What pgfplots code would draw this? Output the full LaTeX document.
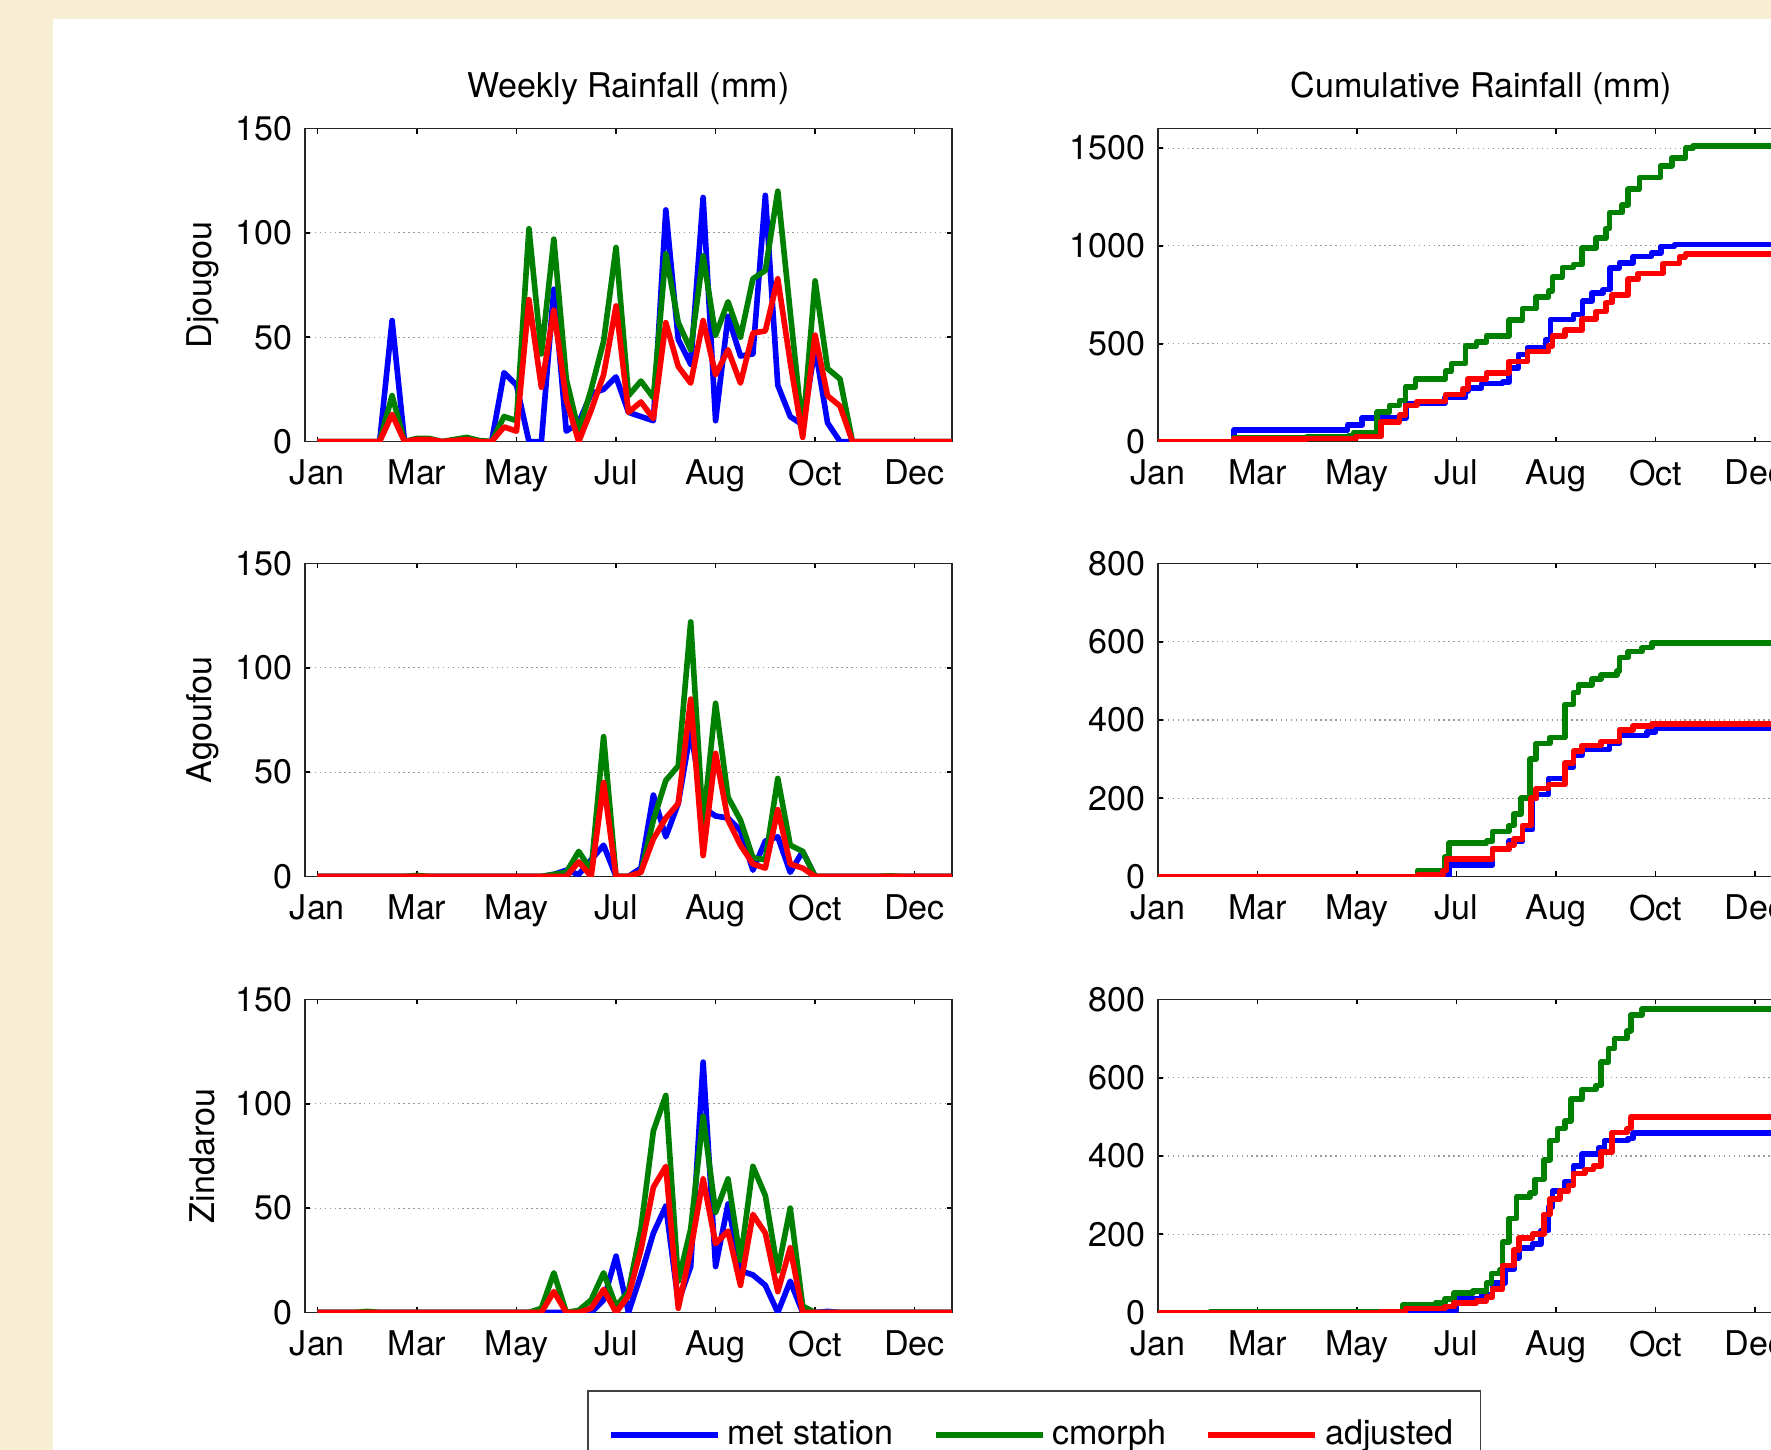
\documentclass[border=0pt]{standalone}
\usepackage{fontspec}
\setmainfont{TeX Gyre Heros}
\usepackage{pgfplots}
\usepackage{pgfplotstable}
\pgfplotsset{compat=1.18}

\definecolor{parch}{RGB}{248,238,212}
\definecolor{mgreen}{RGB}{0,128,0}
\newcommand{\fs}{\fontsize{9.7}{11.5}\selectfont}

% weekly rainfall, week number 1..52
\pgfplotstableread{
w met cm adj
1 0 0 0
2 0 0 0
3 0 0 0
4 0 0 0
5 0 0 0
6 0 0 0
7 58 22 13
8 0 0 0
9 0 1.5 1
10 0 1.5 1
11 0 0 0
12 0 1 0.5
13 0 2 1
14 0 0.5 0
15 0 0 0
16 33 12 7
17 27 10 5
18 0 102 68
19 0 42 26
20 73 97 63
21 5 30 20
22 9 5 0
23 23 25 15
24 25 48 32
25 31 93 65
26 14 22 14
27 12 29 19
28 10 21 11
29 111 90 57
30 49 57 36
31 37 44 28
32 117 89 58
33 10 51 32
34 60 67 44
35 41 50 28
36 42 78 52
37 118 82 53
38 27 120 78
39 12 62 38
40 8 5 2
41 45 77 51
42 9 35 22
43 0 30 17
44 0 0 0
45 0 0 0
46 0 0 0
47 0 0 0
48 0 0 0
49 0 0 0
50 0 0 0
51 0 0 0
52 0 0 0
}\djougou

\pgfplotstableread{
w met cm adj
1 0 0 0
2 0 0 0
3 0 0 0
4 0 0 0
5 0 0 0
6 0 0 0
7 0 0 0
8 0 0 0
9 0 0.5 0
10 0 0 0
11 0 0 0
12 0 0 0
13 0 0 0
14 0 0 0
15 0 0 0
16 0 0 0
17 0 0 0
18 0 0 0
19 0 0 0
20 1 1 0
21 3 2 0
22 1 12 7
23 8 3 0
24 15 67 45
25 0 0 0
26 0 0 0
27 4 2 2
28 39 27 18
29 19 46 28
30 35 53 35
31 70 122 85
32 33 25 10
33 29 83 59
34 28 38 27
35 22 27 15
36 3 9 6
37 17 8 4
38 19 47 32
39 2 15 6
40 12 12 4
41 0 0 0
42 0 0 0
43 0 0 0
44 0 0 0
45 0 0 0
46 0 0 0
47 0 0.3 0
48 0 0 0
49 0 0 0
50 0 0 0
51 0 0 0
52 0 0 0
}\agoufou

\pgfplotstableread{
w met cm adj
1 0 0 0
2 0 0 0
3 0 0 0
4 0 0 0
5 0 0.5 0
6 0 0 0
7 0 0 0
8 0 0 0
9 0 0 0
10 0 0 0
11 0 0 0
12 0 0 0
13 0 0 0
14 0 0 0
15 0 0 0
16 0 0 0
17 0 0 0
18 0 0 0
19 0 2 0
20 0 19 10
21 0 0 0
22 0 1 0
23 0 6 2
24 6 19 11
25 27 3 0
26 0 10 8
27 18 40 30
28 38 87 60
29 51 104 70
30 5 15 2
31 22 40 30
32 120 94 64
33 22 48 33
34 52 64 39
35 20 25 13
36 18 70 47
37 13 56 38
38 0 20 10
39 15 50 31
40 0 3 0
41 0 0 0
42 0.5 0 0
43 0 0 0
44 0 0 0
45 0 0 0
46 0 0 0
47 0 0 0
48 0 0 0
49 0 0 0
50 0 0 0
51 0 0 0
52 0 0 0
}\zindarou

\pgfplotsset{
  rain/.style={
    scale only axis, width=64.7mm, height=31.3mm,
    anchor=south west,
    xmin=0, xmax=52, ymin=0,
    tick align=inside, xtick pos=both, ytick pos=both,
    major tick length=0.5mm,
    tick style={black, line width=0.45pt},
    axis line style={black!85, line width=0.45pt},
    ymajorgrids, grid style={densely dotted, black!40, line width=0.3pt},
    tick label style={font=\fs},
    /pgf/number format/assume math mode=true,
    /pgf/number format/1000 sep={},
    scaled y ticks=false,
    xticklabel style={yshift=-0.6mm},
    label style={font=\fs},
    title style={font=\fs, yshift=-1mm},
    ylabel style={at={(axis description cs:-0.158,0.5)}, anchor=center},
    every axis plot/.append style={line width=1.6pt, line join=round, no markers},
    xticklabels={Jan,Mar,May,Jul,Aug,Oct,Dec},
  },
  weekly/.style={rain, ymax=150, ytick={0,50,100,150}, xtick={1,9,17,25,33,41,49}},
  cumul/.style={rain, xtick={0,8,16,24,32,40,48}},
}

\begin{document}
\begin{tikzpicture}
\path[use as bounding box] (0,0) rectangle (177.1mm,145mm);
\clip (0,0) rectangle (177.1mm,145mm);
\fill[parch] (0,0) rectangle (177.1mm,145mm);
\fill[white] (5.3mm,0) rectangle (177.1mm,143.1mm);

% ---- Djougou
\begin{axis}[weekly, at={(30.5mm,100.84mm)}, title={Weekly Rainfall (mm)}, ylabel={Djougou}]
\addplot[blue] table[x=w,y=met]{\djougou};
\addplot[mgreen] table[x=w,y=cm]{\djougou};
\addplot[red] table[x=w,y=adj]{\djougou};
\end{axis}

\begin{axis}[cumul, at={(115.8mm,100.84mm)}, ymax=1600, ytick={0,500,1000,1500}, title={Cumulative Rainfall (mm)}]
\addplot[blue, const plot] coordinates {(0,0) (6.09,58) (15.24,85) (16.42,120) (19.93,195) (23.06,225) (24.72,259) (24.91,275) (26.01,296) (27.68,304) (28.23,377) (28.97,446) (29.7,480) (31.18,522) (31.55,624) (33.39,650) (34.13,718) (34.87,760) (35.79,777) (36.35,888) (37.08,913) (38.19,947) (39.67,964) (40.41,998) (41.51,1007) (52,1007)};
\addplot[mgreen, const plot] coordinates {(0,0) (6.09,20) (12,25) (15.3,30) (15.7,45) (17.6,150) (18.6,185) (19.4,210) (19.9,280) (20.7,320) (23.1,360) (23.6,400) (24.7,490) (25.6,510) (26.4,540) (28.2,620) (29.3,680) (30.4,740) (31.4,770) (31.7,840) (32.5,890) (33.4,905) (34.1,990) (35.2,1040) (36.0,1090) (36.3,1170) (37.3,1210) (37.8,1290) (38.7,1350) (40.4,1410) (41.3,1450) (42.4,1500) (43.0,1510) (52,1510)};
\addplot[red, const plot] coordinates {(0,0) (6.09,12) (12,15) (15.9,25) (17.9,100) (19.4,135) (19.9,185) (20.8,205) (23.1,240) (24.5,270) (24.9,320) (26.4,350) (28.2,410) (29.7,460) (31.4,490) (31.7,540) (32.7,570) (34.1,625) (35.2,665) (36.0,710) (36.5,750) (37.8,830) (38.6,860) (40.6,910) (41.9,945) (42.4,960) (52,960)};
\end{axis}

% ---- Agoufou
\begin{axis}[weekly, at={(30.5mm,57.35mm)}, ylabel={Agoufou}]
\addplot[blue] table[x=w,y=met]{\agoufou};
\addplot[mgreen] table[x=w,y=cm]{\agoufou};
\addplot[red] table[x=w,y=adj]{\agoufou};
\end{axis}

\begin{axis}[cumul, at={(115.8mm,57.35mm)}, ymax=800, ytick={0,200,400,600,800}]
\addplot[blue, const plot] coordinates {(0,0) (23.4,30) (26.9,70) (28.2,90) (29.3,120) (30.1,200) (30.4,210) (31.4,250) (32.7,280) (33.4,310) (34.1,325) (36.3,340) (37.1,360) (39.3,370) (40.0,378) (52,378)};
\addplot[mgreen, const plot] coordinates {(0,0) (20.85,15) (23.06,50) (23.4,85) (26.4,90) (26.9,115) (28.2,130) (28.6,160) (29.2,200) (29.9,300) (30.4,340) (31.5,355) (32.7,440) (33.4,470) (33.8,490) (34.9,505) (35.6,515) (36.9,525) (37.1,560) (37.8,575) (38.9,585) (39.7,597) (52,598)};
\addplot[red, const plot] coordinates {(0,0) (20.85,3) (22.9,15) (23.2,45) (26.9,70) (28.2,80) (28.6,95) (29.3,130) (30.0,200) (30.4,225) (31.4,235) (32.7,290) (33.4,320) (34.1,335) (35.6,345) (37.1,375) (38.2,385) (39.7,390) (52,390)};
\end{axis}

% ---- Zindarou
\begin{axis}[weekly, at={(30.5mm,13.75mm)}, ylabel={Zindarou},
  legend columns=3,
  legend style={at={(axis description cs:0.436,-0.248)}, anchor=north west,
    draw=black!75, line width=0.5pt, fill=white, font=\fs,
    inner xsep=2mm, inner ysep=2.2mm,
    /tikz/every even column/.append style={column sep=3.2mm}},
  legend image code/.code={\draw[#1] (0mm,0mm) -- (10.7mm,0mm);}]
\addplot[blue] table[x=w,y=met]{\zindarou};
\addplot[mgreen] table[x=w,y=cm]{\zindarou};
\addplot[red] table[x=w,y=adj]{\zindarou};
\legend{met station, cmorph, adjusted}
\end{axis}

\begin{axis}[cumul, at={(115.8mm,13.75mm)}, ymax=800, ytick={0,200,400,600,800}]
\addplot[blue, const plot] coordinates {(0,0) (23.4,5) (24.0,35) (26.0,45) (26.9,75) (27.9,110) (28.6,140) (29.0,165) (30.1,175) (30.8,210) (31.4,270) (31.7,310) (32.7,335) (33.4,375) (34.1,405) (35.4,420) (35.9,440) (37.8,445) (38.2,458) (52,458)};
\addplot[mgreen, const plot] coordinates {(0,0) (4.2,1) (19.7,20) (22.3,25) (23.06,35) (23.8,50) (25.3,55) (26.4,75) (26.8,100) (27.5,110) (27.7,180) (28.2,240) (28.8,295) (29.9,305) (30.3,340) (31.0,390) (31.5,440) (32.1,470) (32.7,490) (33.2,545) (34.1,570) (35.2,580) (35.6,640) (36.2,675) (36.7,700) (37.7,720) (38.0,760) (38.9,775) (52,775)};
\addplot[red, const plot] coordinates {(0,0) (17.9,2) (19.9,10) (23.06,15) (23.8,25) (25.6,30) (26.4,40) (26.9,60) (27.7,120) (28.6,160) (29.0,190) (30.1,200) (31.0,250) (31.5,290) (32.3,310) (33.0,325) (33.4,355) (34.3,365) (35.0,375) (35.6,410) (36.5,460) (37.7,470) (38.0,500) (52,500)};
\end{axis}
\end{tikzpicture}
\end{document}
